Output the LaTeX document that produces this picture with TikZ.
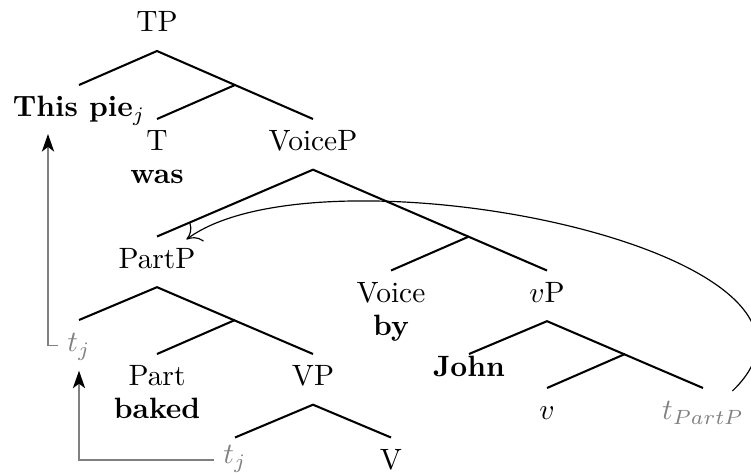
\documentclass[tikz,border=0pt]{standalone}
\usepackage{amsmath}
\usepackage{tikz}
\usetikzlibrary{arrows.meta}

\tikzset{
  cat/.style={anchor=north, inner sep=3pt, text height=7.54pt, text depth=3.29pt},
  word/.style={anchor=base, font=\bfseries},
  trace/.style={text=gray},
  move/.style={draw=gray, line width=0.45pt, -{Stealth[black,length=6pt,width=4.2pt,inset=1.6pt]}},
}

\begin{document}
\begin{tikzpicture}[x=0.34pt,y=-0.34pt]
  \useasboundingbox (0,0) rectangle (751,472);
  % categories, placed at the tops of their branches
  \node[cat,anchor=south] (TP) at (157,51) {TP};
  \node[cat] (pie) at (79,85) {\textbf{This pie}$_j$};
  \node[cat] (T) at (157,119) {T};
  \node[word] (was) at ([yshift=-11.2pt]T.base) {was};
  \node[cat] (VoiceP) at (313,119) {VoiceP};
  \node[cat] (PartP) at (157,236.5) {PartP};
  \node[cat] (Voice) at (391,270.5) {Voice};
  \node[word] (by) at ([yshift=-11.2pt]Voice.base) {by};
  \node[cat] (vP) at (547,270.5) {$v$P};
  \node[cat,trace] (tj1) at (79,320) {$t_j$};
  \node[cat] (Part) at (157,354) {Part};
  \node[word] (baked) at ([yshift=-11.2pt]Part.base) {baked};
  \node[cat] (VP) at (313,354) {VP};
  \node[cat] (John) at (469,344.5) {\textbf{John}};
  \node[cat] (v) at (547,388) {$v$};
  \node[cat,trace] (tPartP) at (703,388) {$t_{PartP}$};
  \node[cat,trace,text height=5.7pt] (tj2) at (235,437.5) {$t_j$};
  \node[cat] (V) at (391,437.5) {V};
  % unlabelled bar levels
  \coordinate (Tbar) at (235,85);
  \coordinate (Voicebar) at (469,236.5);
  \coordinate (Partbar) at (235,320);
  \coordinate (vbar) at (625,354);
  \begin{scope}[line width=0.7pt]
    \draw (pie.north) -- (TP.south) -- (VoiceP.north);
    \draw (Tbar) -- (T.north);
    \draw (PartP.north) -- (VoiceP.south) -- (vP.north);
    \draw (Voicebar) -- (Voice.north);
    \draw ([yshift=-3.23pt]John.north) -- (vP.south) -- (tPartP.north);
    \draw (vbar) -- (v.north);
    \draw (tj1.north) -- (PartP.south) -- (VP.north);
    \draw (Partbar) -- (Part.north);
    \draw (tj2.north) -- (VP.south) -- (V.north);
  \end{scope}
  % movement
  \coordinate (land) at (48,134);
  \draw[move] (tj1.west) -| (land);
  \draw[move] (tj2.west) -| (tj1.south);
  \draw[line width=0.4pt, -{To[length=4.5pt,width=8pt]}] ([xshift=10pt,yshift=-1pt]tPartP.north)
    .. controls (880,250) and (320,140) .. ([xshift=10pt,yshift=-1pt]PartP.north);
\end{tikzpicture}
\end{document}
